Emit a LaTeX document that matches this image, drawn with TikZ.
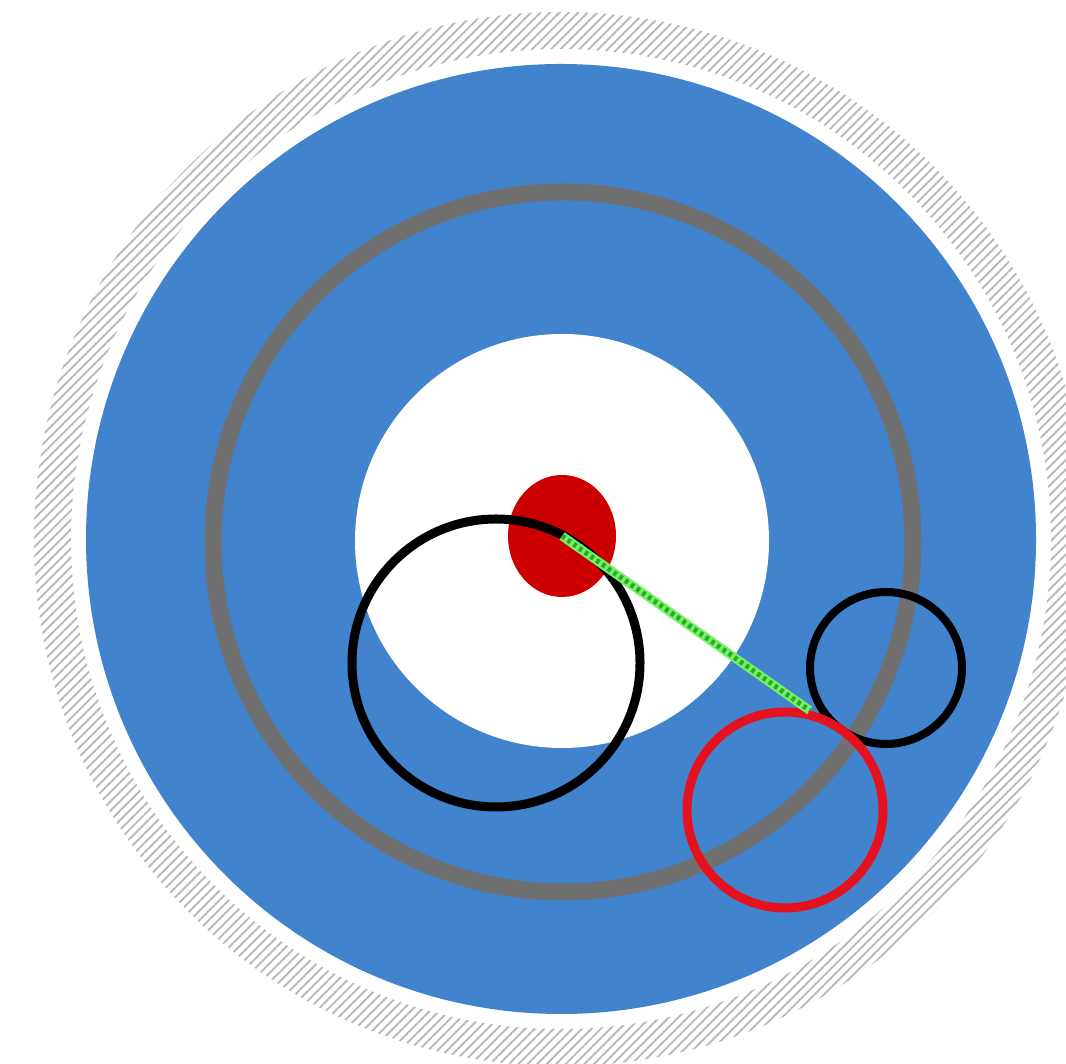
\documentclass[tikz,border=0pt]{standalone}
\usepackage{xcolor}
\usepackage{tikz}
\usetikzlibrary{patterns.meta,shapes.geometric}
\definecolor{myblue}{RGB}{66,131,206}
\definecolor{mygray}{RGB}{112,112,112}
\definecolor{myred}{RGB}{204,0,0}
\definecolor{ringred}{RGB}{228,18,30}
\definecolor{mygreen}{RGB}{120,240,100}
\definecolor{darkgreen}{RGB}{40,170,40}

\begin{document}
\begin{tikzpicture}
    \tikzstyle{ring}=[draw, circle, inner sep=0pt]
    \useasboundingbox (0,0) rectangle (10.66,10.63);
    \clip (0,0) rectangle (10.66,10.63);
    \coordinate (c) at (5.61,5.24);
    % hatched outer band
    \fill[pattern={Lines[angle=45,distance=1.9pt,line width=0.55pt]}, pattern color=gray!55, even odd rule]
      (c) circle (5.27) (c) circle (4.90);
    \fill[myblue] (c) circle (4.75);
    \node[ring, draw=mygray, line width=1.7mm, minimum size=7.0cm] (track) at (5.63,5.21) {};
    \node[circle, fill=white, inner sep=0pt, minimum size=4.14cm] (hole) at (5.62,5.22) {};
    \node[ellipse, fill=myred, inner sep=0pt, minimum width=1.08cm, minimum height=1.22cm] (dot) at (5.62,5.27) {};
    \node[ring, line width=0.9mm, minimum size=2.88cm] (big) at (4.96,4.00) {};
    \node[ring, line width=0.8mm, minimum size=1.52cm] (small) at (8.86,3.95) {};
    \node[ring, draw=ringred, line width=0.9mm, minimum size=1.96cm] (target) at (7.85,2.53) {};
    \draw[mygreen, line width=0.9mm] (dot.center) -- (target.76);
    \draw[darkgreen, line width=0.5mm, dash pattern=on 1pt off 1pt] (dot.center) -- (target.76);
\end{tikzpicture}
\end{document}
